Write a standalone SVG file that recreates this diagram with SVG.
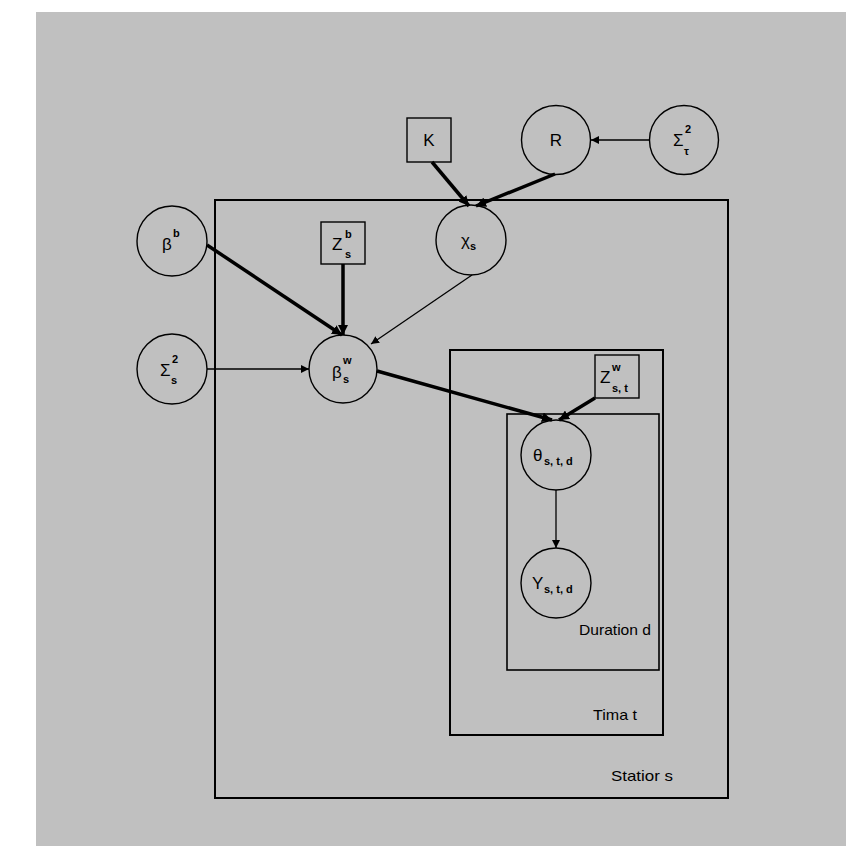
<svg xmlns="http://www.w3.org/2000/svg" width="846" height="846" viewBox="0 0 846 846">
<defs>
<marker id="ah" viewBox="0 0 10 10" refX="10" refY="5" markerWidth="8" markerHeight="8" markerUnits="userSpaceOnUse" orient="auto"><path d="M0,0 L10,5 L0,10 z" fill="#000"/></marker>
<marker id="ahb" viewBox="0 0 10 10" refX="10" refY="5" markerWidth="10" markerHeight="10" markerUnits="userSpaceOnUse" orient="auto"><path d="M0,0 L10,5 L0,10 z" fill="#000"/></marker>
</defs>
<style>
.nd{fill:none;stroke:#000;stroke-width:1.4}
.pl{fill:none;stroke:#000}
.t{font-family:"Liberation Sans",Arial,sans-serif;font-size:17px;fill:#000}
.s{font-family:"Liberation Sans",Arial,sans-serif;font-size:11px;font-weight:bold;fill:#000}
.lb{font-family:"Liberation Sans",Arial,sans-serif;font-size:15px;fill:#000}
.thin{stroke:#000;stroke-width:1.3;fill:none}
.thick{stroke:#000;stroke-width:3.5;fill:none}
</style>
<rect x="0" y="0" width="846" height="846" fill="#fff"/>
<rect x="36" y="12" width="810" height="834" fill="#c0c0c0"/>

<g id="plates">
<rect class="pl" x="215" y="200" width="513" height="598" stroke-width="2"/>
<rect class="pl" x="450" y="350" width="213" height="385" stroke-width="2"/>
<rect class="pl" x="507" y="414" width="152" height="256" stroke-width="1.6"/>
<text class="lb" x="579" y="635" textLength="72" lengthAdjust="spacingAndGlyphs">Duration d</text>
<text class="lb" x="593" y="720" textLength="44" lengthAdjust="spacingAndGlyphs">Tima t</text>
<text class="lb" x="611" y="781" textLength="62" lengthAdjust="spacingAndGlyphs">Statior s</text>
</g>

<g id="connectors">
<line class="thick" x1="432" y1="162" x2="469" y2="206" marker-end="url(#ahb)"/>
<line class="thick" x1="555" y1="174" x2="476" y2="206" marker-end="url(#ahb)"/>
<line class="thin" x1="649" y1="140" x2="591" y2="140" marker-end="url(#ah)"/>
<line class="thick" x1="207" y1="245" x2="342" y2="335" marker-end="url(#ahb)"/>
<line class="thick" x1="343" y1="264" x2="343" y2="335" marker-end="url(#ahb)"/>
<line class="thin" x1="472" y1="275" x2="371" y2="344" marker-end="url(#ah)"/>
<line class="thin" x1="207" y1="369" x2="309" y2="369" marker-end="url(#ah)"/>
<line class="thick" x1="377" y1="371" x2="552" y2="420" marker-end="url(#ahb)"/>
<line class="thick" x1="595" y1="398" x2="559" y2="420" marker-end="url(#ahb)"/>
<line class="thin" x1="556" y1="490" x2="556" y2="548" marker-end="url(#ah)"/>
</g>

<g id="node-K">
<rect class="nd" x="407" y="118" width="44" height="44"/>
<text class="t" x="429" y="146" text-anchor="middle">K</text>
</g>
<g id="node-R">
<circle class="nd" cx="556" cy="140" r="34.5"/>
<text class="t" x="556" y="146" text-anchor="middle">R</text>
</g>
<g id="node-sigma-tau">
<circle class="nd" cx="684" cy="140" r="34.5"/>
<text class="t" x="673" y="146">Σ</text>
<text class="s" x="684" y="155">τ</text>
<text class="s" x="685" y="133">2</text>
</g>
<g id="node-beta-b">
<circle class="nd" cx="172" cy="241" r="35"/>
<text class="t" x="162" y="250">β</text>
<text class="s" x="173" y="237">b</text>
</g>
<g id="node-Z-b">
<rect class="nd" x="321" y="222" width="44" height="42"/>
<text class="t" x="332" y="250">Z</text>
<text class="s" x="345" y="258">s</text>
<text class="s" x="345" y="238">b</text>
</g>
<g id="node-chi">
<circle class="nd" cx="471" cy="240" r="35"/>
<text class="t" x="461" y="246">χ</text>
<text class="s" x="470" y="250">s</text>
</g>
<g id="node-sigma-s">
<circle class="nd" cx="172" cy="369" r="35"/>
<text class="t" x="160" y="376">Σ</text>
<text class="s" x="171" y="384">s</text>
<text class="s" x="172" y="363">2</text>
</g>
<g id="node-beta-w">
<circle class="nd" cx="343" cy="369" r="34"/>
<text class="t" x="332" y="378">β</text>
<text class="s" x="343" y="383">s</text>
<text class="s" x="343" y="364">w</text>
</g>
<g id="node-Z-w">
<rect class="nd" x="595" y="355" width="44" height="43"/>
<text class="t" x="600" y="383">Z</text>
<text class="s" x="612" y="392">s, t</text>
<text class="s" x="612" y="371">w</text>
</g>
<g id="node-theta">
<circle class="nd" cx="556" cy="455" r="35"/>
<text class="t" x="533" y="461">θ</text>
<text class="s" x="544" y="465">s, t, d</text>
</g>
<g id="node-Y">
<circle class="nd" cx="556" cy="583" r="35"/>
<text class="t" x="532" y="589">Y</text>
<text class="s" x="544" y="593">s, t, d</text>
</g>
</svg>
